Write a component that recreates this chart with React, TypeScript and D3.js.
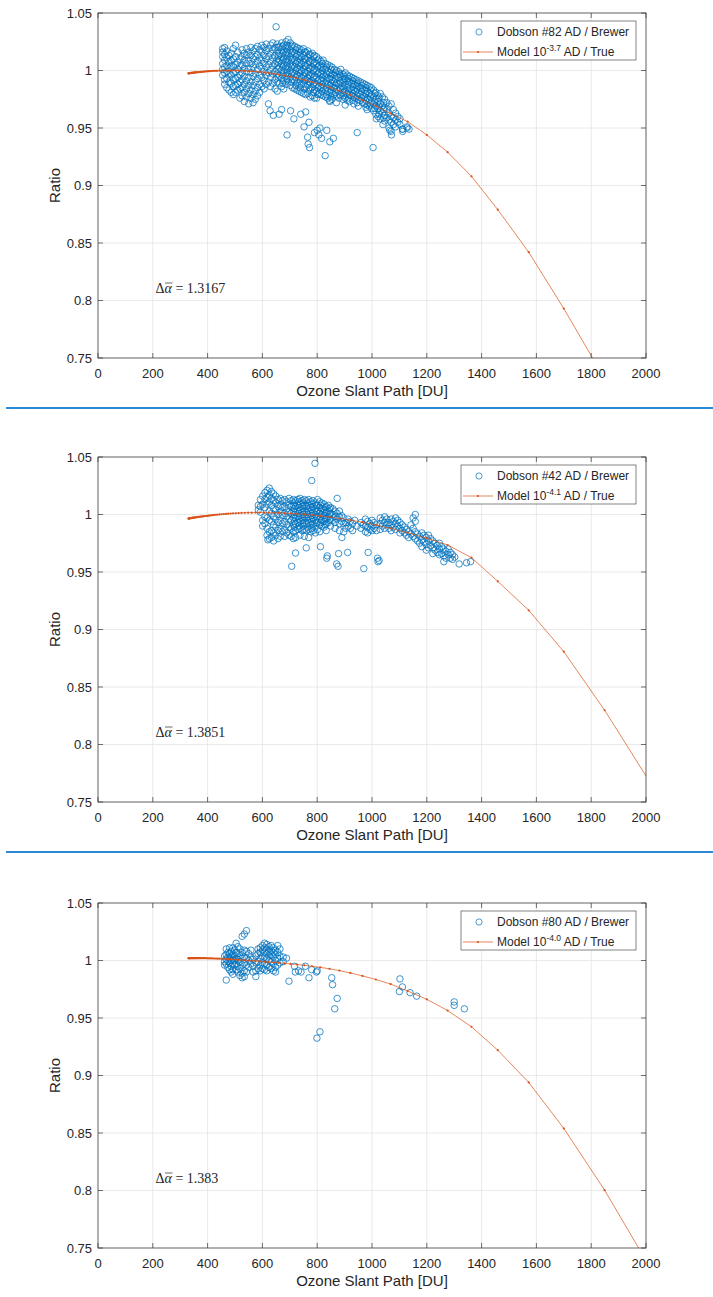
import React from 'react';
import * as d3 from 'd3';

// ---------- axes ----------
const X_TICKS = [0, 200, 400, 600, 800, 1000, 1200, 1400, 1600, 1800, 2000];
const Y_TICKS = [0.75, 0.8, 0.85, 0.9, 0.95, 1, 1.05];
const Y_TICK_LABELS = ['0.75', '0.8', '0.85', '0.9', '0.95', '1', '1.05'];
const X_LABEL = 'Ozone Slant Path [DU]';
const Y_LABEL = 'Ratio';

// ---------- legends / annotations ----------
const DOBSON_LABELS = ['Dobson #82 AD / Brewer', 'Dobson #42 AD / Brewer', 'Dobson #80 AD / Brewer'];
const MODEL_EXPONENTS = ['-3.7', '-4.1', '-4.0'];
const DELTA_ALPHA = ['1.3167', '1.3851', '1.383'];

// ---------- model curves (shared slant-path grid, ratio per panel) ----------
const MODEL_PATH = [
  330, 331, 332, 333, 334, 335, 337, 339, 341, 343,
  345, 347, 349, 351, 354, 356, 359, 361, 364, 367,
  370, 374, 377, 381, 385, 389, 394, 398, 403, 408,
  413, 419, 425, 431, 437, 444, 451, 459, 467, 475,
  484, 493, 503, 513, 524, 536, 548, 561, 575, 590,
  606, 623, 641, 660, 681, 703, 727, 753, 781, 811,
  845, 881, 921, 965, 1014, 1068, 1130, 1200, 1276, 1363,
  1459, 1572, 1700, 1849, 2015,
];
const MODEL_RATIO_1 = [
  0.9975, 0.9976, 0.9976, 0.9977, 0.9977, 0.9977, 0.9978, 0.9979, 0.9979, 0.998,
  0.998, 0.9981, 0.9981, 0.9982, 0.9983, 0.9983, 0.9984, 0.9984, 0.9985, 0.9986,
  0.9987, 0.9988, 0.9988, 0.9989, 0.999, 0.9991, 0.9992, 0.9993, 0.9994, 0.9994,
  0.9995, 0.9996, 0.9997, 0.9997, 0.9998, 0.9999, 0.9999, 1.0, 1.0, 1.0,
  1.0, 1.0, 0.9999, 0.9999, 0.9998, 0.9997, 0.9995, 0.9993, 0.9991, 0.9988,
  0.9983, 0.9978, 0.9972, 0.9965, 0.9956, 0.9946, 0.9933, 0.9918, 0.99, 0.9879,
  0.9853, 0.9823, 0.9787, 0.9743, 0.969, 0.9628, 0.9555, 0.944, 0.929, 0.908,
  0.879, 0.842, 0.793, 0.732, 0.66,
];
const MODEL_RATIO_2 = [
  0.9965, 0.9965, 0.9966, 0.9966, 0.9967, 0.9967, 0.9968, 0.9969, 0.9969, 0.997,
  0.9971, 0.9972, 0.9972, 0.9973, 0.9974, 0.9975, 0.9976, 0.9977, 0.9978, 0.9979,
  0.998, 0.9981, 0.9982, 0.9983, 0.9984, 0.9986, 0.9987, 0.9988, 0.999, 0.9991,
  0.9993, 0.9994, 0.9996, 0.9998, 0.9999, 1.0001, 1.0002, 1.0004, 1.0005, 1.0007,
  1.0008, 1.001, 1.0011, 1.0012, 1.0014, 1.0015, 1.0016, 1.0016, 1.0017, 1.0017,
  1.0017, 1.0016, 1.0015, 1.0014, 1.0012, 1.0009, 1.0006, 1.0001, 0.9995, 0.9988,
  0.9978, 0.9966, 0.9951, 0.9933, 0.9909, 0.988, 0.9842, 0.9794, 0.9735, 0.9625,
  0.9419, 0.9167, 0.8807, 0.8298, 0.767,
];
const MODEL_RATIO_3 = [
  1.002, 1.002, 1.002, 1.002, 1.002, 1.002, 1.002, 1.002, 1.002, 1.002,
  1.002, 1.002, 1.002, 1.002, 1.002, 1.002, 1.002, 1.002, 1.002, 1.002,
  1.002, 1.002, 1.002, 1.002, 1.002, 1.002, 1.002, 1.0019, 1.0019, 1.0019,
  1.0018, 1.0018, 1.0017, 1.0017, 1.0016, 1.0016, 1.0015, 1.0014, 1.0013, 1.0012,
  1.0011, 1.001, 1.0008, 1.0006, 1.0004, 1.0002, 1.0, 0.9998, 0.9996, 0.9993,
  0.999, 0.9987, 0.9984, 0.998, 0.9975, 0.997, 0.9965, 0.9958, 0.995, 0.994,
  0.9928, 0.9912, 0.9892, 0.9866, 0.9835, 0.9795, 0.9735, 0.9662, 0.9565, 0.9424,
  0.922, 0.894, 0.854, 0.8003, 0.733,
];

// ---------- Dobson / Brewer ratios: [slant path, ratios observed at that path] ----------
const P1_BAND: [number, number[]][] = [
  [455, [1.019, 1.016, 1.012, 1.006, 1.001, 0.996]],
  [462, [1.02, 1.014, 1.009, 1.003, 0.998, 0.992, 0.988]],
  [470, [1.017, 1.011, 1.004, 0.999, 0.993, 0.985]],
  [478, [1.013, 1.008, 1.002, 0.997, 0.99, 0.983]],
  [486, [1.015, 1.009, 1.004, 0.996, 0.989, 0.981]],
  [494, [1.019, 1.01, 1.003, 0.998, 0.992, 0.986, 0.979]],
  [502, [1.022, 1.012, 1.005, 0.999, 0.993, 0.987, 0.981]],
  [510, [1.016, 1.007, 1.001, 0.994, 0.988, 0.983]],
  [518, [1.01, 1.004, 0.996, 0.99, 0.984, 0.976]],
  [526, [1.018, 1.012, 1.005, 0.998, 0.992, 0.985, 0.978]],
  [534, [1.015, 1.009, 1.002, 0.995, 0.988, 0.981, 0.973]],
  [542, [1.019, 1.013, 1.006, 0.999, 0.991, 0.984, 0.977]],
  [550, [1.016, 1.009, 1.002, 0.994, 0.987, 0.98, 0.971]],
  [558, [1.02, 1.013, 1.006, 0.998, 0.99, 0.983, 0.976]],
  [566, [1.017, 1.01, 1.003, 0.995, 0.987, 0.979, 0.972]],
  [574, [1.019, 1.012, 1.005, 0.997, 0.99, 0.982, 0.975]],
  [582, [1.021, 1.014, 1.008, 1.001, 0.993, 0.985, 0.978]],
  [590, [1.018, 1.011, 1.004, 0.996, 0.988, 0.981]],
  [598, [1.022, 1.016, 1.009, 1.002, 0.994, 0.986]],
  [606, [1.02, 1.013, 1.006, 0.999, 0.991, 0.984]],
  [614, [1.023, 1.017, 1.01, 1.003, 0.996, 0.988]],
  [622, [1.019, 1.012, 1.005, 0.998, 0.99, 0.971]],
  [630, [1.022, 1.015, 1.008, 1.001, 0.994, 0.986]],
  [638, [1.024, 1.018, 1.011, 1.004, 0.997, 0.989]],
  [646, [1.02, 1.013, 1.006, 0.999, 0.992, 0.984]],
  [654, [1.023, 1.017, 1.01, 1.004, 0.997, 0.99, 0.982]],
  [662, [1.021, 1.015, 1.009, 1.003, 0.996, 0.989]],
  [670, [1.024, 1.018, 1.012, 1.006, 1.0, 0.993, 0.986]],
  [678, [1.022, 1.016, 1.01, 1.004, 0.998, 0.991, 0.984]],
  [686, [1.025, 1.019, 1.013, 1.007, 1.001, 0.995, 0.988]],
  [694, [1.027, 1.021, 1.015, 1.009, 1.003, 0.997, 0.99]],
  [702, [1.024, 1.018, 1.012, 1.006, 1.0, 0.994, 0.987]],
  [710, [1.022, 1.016, 1.01, 1.004, 0.998, 0.992, 0.985]],
  [718, [1.021, 1.015, 1.009, 1.003, 0.997, 0.991, 0.984]],
  [726, [1.02, 1.014, 1.008, 1.002, 0.996, 0.99, 0.983]],
  [734, [1.019, 1.013, 1.007, 1.001, 0.995, 0.989, 0.982]],
  [742, [1.018, 1.012, 1.006, 1.0, 0.994, 0.988, 0.981]],
  [750, [1.019, 1.013, 1.007, 1.001, 0.995, 0.988, 0.98]],
  [758, [1.016, 1.01, 1.004, 0.998, 0.992, 0.986, 0.979]],
  [766, [1.017, 1.011, 1.005, 0.999, 0.993, 0.987, 0.98]],
  [774, [1.014, 1.008, 1.002, 0.996, 0.99, 0.984, 0.977]],
  [782, [1.015, 1.009, 1.003, 0.997, 0.991, 0.985, 0.978]],
  [790, [1.013, 1.007, 1.001, 0.995, 0.989, 0.983, 0.976]],
  [798, [1.012, 1.006, 1.0, 0.994, 0.988, 0.982, 0.976]],
  [806, [1.01, 1.004, 0.998, 0.992, 0.986, 0.98]],
  [814, [1.008, 1.003, 0.997, 0.991, 0.985, 0.979]],
  [822, [1.009, 1.003, 0.997, 0.991, 0.985, 0.978]],
  [830, [1.006, 1.001, 0.995, 0.989, 0.983, 0.977]],
  [838, [1.005, 0.999, 0.993, 0.988, 0.982, 0.976]],
  [846, [1.004, 0.998, 0.993, 0.987, 0.981, 0.974]],
  [854, [1.003, 0.997, 0.992, 0.986, 0.98, 0.975]],
  [862, [1.001, 0.996, 0.99, 0.985, 0.979]],
  [870, [1.0, 0.995, 0.989, 0.984, 0.978, 0.972]],
  [878, [0.999, 0.994, 0.988, 0.982, 0.976]],
  [886, [1.001, 0.995, 0.989, 0.984, 0.978]],
  [894, [0.997, 0.992, 0.986, 0.981, 0.975]],
  [902, [0.998, 0.993, 0.988, 0.982, 0.976, 0.97]],
  [910, [0.996, 0.991, 0.985, 0.98, 0.974]],
  [918, [0.995, 0.99, 0.984, 0.979, 0.973]],
  [926, [0.994, 0.989, 0.983, 0.978]],
  [934, [0.993, 0.988, 0.983, 0.977, 0.971]],
  [942, [0.992, 0.987, 0.982, 0.976]],
  [950, [0.991, 0.986, 0.98, 0.975, 0.969]],
  [958, [0.99, 0.985, 0.979, 0.974]],
  [966, [0.989, 0.984, 0.978, 0.972]],
  [974, [0.988, 0.983, 0.977, 0.971]],
  [982, [0.987, 0.982, 0.976, 0.97, 0.966]],
  [990, [0.986, 0.98, 0.975, 0.969]],
  [998, [0.985, 0.979, 0.973, 0.967]],
  [1006, [0.983, 0.977, 0.971, 0.965]],
  [1014, [0.981, 0.975, 0.969, 0.962]],
  [1022, [0.978, 0.973, 0.967, 0.96]],
  [1030, [0.98, 0.971, 0.965, 0.958]],
  [1038, [0.977, 0.969, 0.963]],
  [1046, [0.975, 0.968, 0.961, 0.956]],
  [1054, [0.972, 0.966, 0.959]],
  [1062, [0.969, 0.963, 0.957, 0.95]],
  [1070, [0.971, 0.96, 0.955, 0.947]],
  [1078, [0.966, 0.959, 0.953]],
  [1086, [0.963, 0.957, 0.951]],
  [1094, [0.96, 0.955]],
  [1102, [0.958, 0.953]],
  [1112, [0.949, 0.947]],
  [1128, [0.95]],
  [1135, [0.949]],
];
// densest core of panel 1, between the columns above
const P1_CORE: [number, number[]][] = [
  [658, [1.02, 1.013, 1.007, 1.001, 0.994]],
  [674, [1.021, 1.015, 1.009, 1.003, 0.996, 0.989]],
  [690, [1.022, 1.016, 1.01, 1.004, 0.998, 0.992]],
  [706, [1.021, 1.015, 1.009, 1.003, 0.997, 0.99]],
  [722, [1.018, 1.012, 1.006, 1.0, 0.994, 0.987]],
  [738, [1.016, 1.01, 1.004, 0.998, 0.992, 0.985]],
  [754, [1.016, 1.01, 1.004, 0.998, 0.991, 0.984]],
  [770, [1.014, 1.008, 1.002, 0.996, 0.99, 0.983]],
  [786, [1.012, 1.006, 1.0, 0.994, 0.988, 0.981]],
  [802, [1.009, 1.003, 0.997, 0.991, 0.985, 0.979]],
  [818, [1.006, 1.0, 0.994, 0.988, 0.982]],
  [834, [1.003, 0.997, 0.991, 0.985, 0.979]],
  [850, [1.001, 0.995, 0.989, 0.983, 0.977]],
  [866, [0.998, 0.993, 0.987, 0.981]],
  [882, [0.997, 0.991, 0.985, 0.979]],
  [898, [0.995, 0.99, 0.984, 0.978]],
  [914, [0.993, 0.988, 0.982, 0.976]],
  [930, [0.991, 0.986, 0.98, 0.974]],
  [946, [0.989, 0.984, 0.978, 0.972]],
  [962, [0.987, 0.982, 0.976]],
  [978, [0.985, 0.98, 0.974, 0.968]],
  [994, [0.983, 0.977, 0.971]],
  [1010, [0.98, 0.973, 0.967]],
  [1026, [0.976, 0.969, 0.962]],
  [1042, [0.972, 0.966, 0.959]],
];
const P1_OUTLIERS: [number, number][] = [
  [650, 1.038], [628, 0.965], [640, 0.961], [661, 0.962], [670, 0.966], [690, 0.944],
  [703, 0.965], [715, 0.958], [740, 0.962], [752, 0.951], [758, 0.964], [765, 0.942],
  [770, 0.955], [767, 0.936], [772, 0.933], [790, 0.946], [800, 0.948], [806, 0.944],
  [816, 0.941], [829, 0.926], [835, 0.948], [846, 0.938], [859, 0.941], [846, 0.973],
  [810, 0.95], [946, 0.946], [1004, 0.933], [1016, 0.958], [1065, 0.948], [1071, 0.944],
  [1111, 0.949], [1128, 0.951], [1040, 0.953],
];

const P2_BAND: [number, number[]][] = [
  [585, [1.008, 1.004]],
  [593, [1.013, 1.007, 1.002]],
  [601, [1.016, 1.009, 0.995, 0.99]],
  [609, [1.019, 1.013, 1.006, 0.998, 0.992]],
  [617, [1.021, 1.015, 1.009, 0.997, 0.988, 0.982]],
  [625, [1.023, 1.017, 1.011, 1.003, 0.995, 0.985, 0.979]],
  [633, [1.02, 1.014, 1.008, 1.001, 0.994, 0.986, 0.98]],
  [641, [1.018, 1.012, 1.005, 0.998, 0.991, 0.984, 0.977]],
  [649, [1.016, 1.01, 1.004, 0.996, 0.989, 0.982]],
  [657, [1.013, 1.007, 1.0, 0.993, 0.986, 0.979]],
  [665, [1.014, 1.008, 1.002, 0.995, 0.988, 0.981]],
  [673, [1.012, 1.006, 0.999, 0.992, 0.985]],
  [681, [1.013, 1.007, 1.001, 0.994, 0.987, 0.981]],
  [689, [1.011, 1.005, 0.998, 0.991, 0.984]],
  [697, [1.014, 1.008, 1.002, 0.996, 0.989, 0.982]],
  [705, [1.012, 1.007, 1.001, 0.995, 0.988, 0.981]],
  [713, [1.013, 1.008, 1.003, 0.997, 0.991, 0.985, 0.979]],
  [721, [1.012, 1.007, 1.002, 0.997, 0.992, 0.986, 0.98]],
  [729, [1.013, 1.008, 1.003, 0.998, 0.993, 0.987]],
  [737, [1.014, 1.009, 1.004, 0.999, 0.994, 0.988, 0.982]],
  [745, [1.012, 1.007, 1.002, 0.997, 0.992, 0.986]],
  [753, [1.013, 1.008, 1.003, 0.998, 0.993, 0.987, 0.981]],
  [761, [1.012, 1.007, 1.002, 0.997, 0.992, 0.986]],
  [769, [1.013, 1.008, 1.003, 0.998, 0.993, 0.987, 0.98]],
  [777, [1.011, 1.006, 1.001, 0.996, 0.991, 0.985]],
  [785, [1.012, 1.007, 1.002, 0.997, 0.992, 0.986]],
  [793, [1.01, 1.005, 1.0, 0.995, 0.99, 0.984]],
  [801, [1.013, 1.008, 1.003, 0.998, 0.993, 0.987]],
  [809, [1.011, 1.006, 1.001, 0.996, 0.991, 0.985]],
  [817, [1.01, 1.005, 1.0, 0.995, 0.99]],
  [825, [1.009, 1.004, 0.999, 0.994, 0.989]],
  [833, [1.007, 1.002, 0.997, 0.992, 0.986]],
  [841, [1.008, 1.003, 0.998, 0.993]],
  [849, [1.006, 1.001, 0.996, 0.99]],
  [857, [1.005, 1.0, 0.995]],
  [865, [1.003, 0.998, 0.993, 0.988]],
  [873, [1.014, 1.001, 0.996]],
  [881, [1.003, 0.998, 0.992, 0.986]],
  [889, [0.999, 0.994]],
  [897, [0.997, 0.992, 0.985]],
  [905, [0.993, 0.988]],
  [913, [0.996, 0.99]],
  [921, [0.994, 0.988]],
  [929, [0.992, 0.986]],
  [937, [0.995]],
  [945, [0.99]],
  [960, [0.993, 0.988]],
  [968, [0.991]],
  [976, [0.996, 0.99, 0.985]],
  [984, [0.994, 0.989, 0.984]],
  [992, [0.992, 0.987]],
  [1000, [0.995, 0.99, 0.986]],
  [1008, [0.993, 0.988]],
  [1016, [0.991, 0.986]],
  [1030, [0.997, 0.992, 0.987]],
  [1038, [0.995, 0.99]],
  [1046, [0.998, 0.993, 0.988]],
  [1054, [0.996, 0.991]],
  [1062, [0.993, 0.988]],
  [1070, [0.996, 0.991, 0.986]],
  [1078, [0.994, 0.989]],
  [1086, [0.997, 0.992, 0.987]],
  [1094, [0.995, 0.99]],
  [1102, [0.993, 0.988, 0.984]],
  [1110, [0.991, 0.986]],
  [1118, [0.989, 0.984]],
  [1126, [0.987, 0.982]],
  [1134, [0.985, 0.98]],
  [1142, [0.991, 0.983]],
  [1150, [0.997, 0.988, 0.981]],
  [1158, [1.0, 0.994, 0.985, 0.979]],
  [1166, [0.983, 0.977]],
  [1174, [0.981, 0.975]],
  [1182, [0.984, 0.978, 0.972]],
  [1190, [0.982, 0.976]],
  [1198, [0.98, 0.974, 0.969]],
  [1206, [0.982, 0.977, 0.971]],
  [1214, [0.979, 0.973]],
  [1222, [0.977, 0.971, 0.966]],
  [1230, [0.975, 0.969]],
  [1238, [0.973, 0.967]],
  [1246, [0.975, 0.97, 0.965]],
  [1254, [0.972, 0.966]],
  [1262, [0.97, 0.964, 0.959]],
  [1270, [0.968, 0.962]],
  [1278, [0.97, 0.965]],
  [1286, [0.967, 0.962]],
  [1294, [0.965, 0.961]],
  [1302, [0.963]],
  [1318, [0.957]],
  [1345, [0.958]],
  [1360, [0.959]],
];
const P2_CORE: [number, number[]][] = [
  [717, [1.01, 1.005, 1.0, 0.994, 0.989]],
  [733, [1.011, 1.006, 1.001, 0.996, 0.99]],
  [749, [1.01, 1.005, 1.0, 0.995, 0.99]],
  [765, [1.01, 1.005, 1.0, 0.995, 0.989]],
  [781, [1.009, 1.004, 0.999, 0.994, 0.988]],
  [797, [1.008, 1.003, 0.998, 0.993]],
  [813, [1.008, 1.003, 0.998, 0.993]],
  [829, [1.006, 1.001, 0.996, 0.991]],
  [845, [1.005, 1.0, 0.995]],
];
const P2_OUTLIERS: [number, number][] = [
  [792, 1.0445], [780, 1.0295], [721, 0.9665], [707, 0.955], [812, 0.972], [837, 0.964],
  [835, 0.962], [871, 0.957], [876, 0.955], [878, 0.966], [911, 0.967], [970, 0.953],
  [986, 0.967], [1020, 0.962], [1022, 0.959], [1026, 0.96], [890, 0.98], [760, 0.971],
  [620, 0.978],
];

const P3_BAND: [number, number[]][] = [
  [462, [1.004, 0.999, 0.996]],
  [468, [1.01, 1.005, 1.001, 0.997, 0.983]],
  [474, [1.007, 1.003, 0.999, 0.994]],
  [480, [1.011, 1.006, 1.002, 0.998, 0.992]],
  [486, [1.008, 1.004, 1.0, 0.995, 0.99]],
  [492, [1.011, 1.005, 1.001, 0.997, 0.992, 0.988]],
  [498, [1.009, 1.004, 1.0, 0.996]],
  [504, [1.015, 1.007, 1.002, 0.997, 0.992]],
  [510, [1.012, 1.006, 1.001, 0.995, 0.99]],
  [518, [1.01, 1.004, 0.999, 0.993, 0.987]],
  [526, [1.021, 1.007, 1.002, 0.996, 0.989, 0.985]],
  [534, [1.023, 1.009, 1.003, 0.998, 0.991, 0.986]],
  [542, [1.026, 1.008, 1.002, 0.996, 0.99]],
  [550, [1.006, 1.0, 0.994]],
  [558, [1.009, 1.003, 0.997]],
  [566, [1.001, 0.995, 0.99]],
  [576, [1.004, 0.998, 0.991, 0.986]],
  [584, [1.01, 1.006, 0.999, 0.993]],
  [592, [1.011, 1.007, 1.002, 0.996, 0.991]],
  [600, [1.013, 1.009, 1.004, 0.998, 0.993]],
  [608, [1.015, 1.011, 1.007, 1.003, 0.997, 0.992]],
  [616, [1.014, 1.01, 1.006, 1.002, 0.996, 0.991]],
  [624, [1.012, 1.008, 1.004, 1.0, 0.994]],
  [632, [1.013, 1.009, 1.005, 0.999, 0.993]],
  [640, [1.011, 1.007, 1.003, 0.997, 0.991]],
  [648, [1.009, 1.005, 1.0, 0.994, 0.99]],
  [656, [1.013, 1.007, 1.002, 0.996]],
  [664, [1.01, 1.004, 0.998]],
  [676, [1.003, 0.999]],
  [688, [1.002]],
];
const P3_CORE: [number, number[]][] = [];
const P3_OUTLIERS: [number, number][] = [
  [697, 0.982], [717, 0.995], [720, 0.99], [732, 0.991], [741, 0.99], [757, 0.995],
  [770, 0.985], [780, 0.992], [797, 0.99], [800, 0.991], [853, 0.985], [856, 0.979],
  [873, 0.967], [864, 0.958], [810, 0.938], [799, 0.9325], [1102, 0.984], [1100, 0.973],
  [1111, 0.977], [1139, 0.972], [1163, 0.969], [1300, 0.964], [1300, 0.961], [1337, 0.958],
];

// ---------- layout ----------
const W = 713;
const H = 1297;
const LEFT = 98;
const PW = 548;
const PH = 345;
const PANEL_TOPS = [13, 457, 903];
const SEPARATOR_Y = [408, 852];

const BLUE = '#0072BD';
const ORANGE = '#D95319';
const AXIS = '#333333';
const TEXT = '#262626';
const FONT = '"Liberation Sans", Arial, Helvetica, sans-serif';

const PANELS = [
  { band: P1_BAND, core: P1_CORE, outliers: P1_OUTLIERS, ratio: MODEL_RATIO_1 },
  { band: P2_BAND, core: P2_CORE, outliers: P2_OUTLIERS, ratio: MODEL_RATIO_2 },
  { band: P3_BAND, core: P3_CORE, outliers: P3_OUTLIERS, ratio: MODEL_RATIO_3 },
];

function Panel({ idx }: { idx: number }) {
  const top = PANEL_TOPS[idx];
  const p = PANELS[idx];
  const x = d3.scaleLinear().domain([0, 2000]).range([LEFT, LEFT + PW]);
  const y = d3.scaleLinear().domain([0.75, 1.05]).range([top + PH, top]);
  const points: [number, number][] = [];
  p.band.forEach(([px, ys]) => ys.forEach((v) => points.push([px, v])));
  p.core.forEach(([px, ys]) => ys.forEach((v) => points.push([px, v])));
  p.outliers.forEach((d) => points.push(d));
  const model: [number, number][] = MODEL_PATH.map((m, i) => [m, p.ratio[i]]);
  const line = d3.line<[number, number]>().x((d) => x(d[0])).y((d) => y(d[1]));
  const clipId = `clip${idx}`;
  const bottom = top + PH;
  const right = LEFT + PW;
  const tick = 5;
  const legX = LEFT + 363;
  const legY = top + 8;
  const ann = { x: x(210), y: y(0.8065) };
  return (
    <g>
      <defs>
        <clipPath id={clipId}>
          <rect x={LEFT} y={top} width={PW} height={PH} />
        </clipPath>
      </defs>
      <rect x={LEFT} y={top} width={PW} height={PH} fill="#fff" />
      {/* grid */}
      {X_TICKS.map((t) => (
        <line key={'gx' + t} x1={x(t)} x2={x(t)} y1={top} y2={bottom} stroke="#e4e4e4" strokeWidth={0.8} />
      ))}
      {Y_TICKS.map((t) => (
        <line key={'gy' + t} x1={LEFT} x2={right} y1={y(t)} y2={y(t)} stroke="#e4e4e4" strokeWidth={0.8} />
      ))}
      {/* scatter and model */}
      <g clipPath={`url(#${clipId})`}>
        {points.map((d, i) => (
          <circle key={i} cx={x(d[0])} cy={y(d[1])} r={3.25} fill="none" stroke={BLUE} strokeWidth={0.75} />
        ))}
        <path d={line(model) || ''} fill="none" stroke={ORANGE} strokeWidth={0.7} />
        {model.map((d, i) => (
          <circle key={'m' + i} cx={x(d[0])} cy={y(d[1])} r={1.1} fill={ORANGE} />
        ))}
      </g>
      {/* axes box and ticks */}
      <rect x={LEFT} y={top} width={PW} height={PH} fill="none" stroke={AXIS} strokeWidth={0.7} />
      {X_TICKS.map((t) => (
        <g key={'tx' + t}>
          <line x1={x(t)} x2={x(t)} y1={bottom} y2={bottom - tick} stroke={AXIS} strokeWidth={0.7} />
          <line x1={x(t)} x2={x(t)} y1={top} y2={top + tick} stroke={AXIS} strokeWidth={0.7} />
          <text x={x(t)} y={bottom + 20} textAnchor="middle" fontSize={13} fontFamily={FONT} fill={TEXT}>
            {t}
          </text>
        </g>
      ))}
      {Y_TICKS.map((t, i) => (
        <g key={'ty' + t}>
          <line x1={LEFT} x2={LEFT + tick} y1={y(t)} y2={y(t)} stroke={AXIS} strokeWidth={0.7} />
          <line x1={right} x2={right - tick} y1={y(t)} y2={y(t)} stroke={AXIS} strokeWidth={0.7} />
          <text x={LEFT - 6} y={y(t) + 4.5} textAnchor="end" fontSize={13} fontFamily={FONT} fill={TEXT}>
            {Y_TICK_LABELS[i]}
          </text>
        </g>
      ))}
      <text x={(LEFT + right) / 2} y={bottom + 38} textAnchor="middle" fontSize={15} fontFamily={FONT} fill={TEXT}>
        {X_LABEL}
      </text>
      <text
        transform={`translate(60,${(top + bottom) / 2}) rotate(-90)`}
        textAnchor="middle"
        fontSize={15}
        fontFamily={FONT}
        fill={TEXT}
      >
        {Y_LABEL}
      </text>
      {/* annotation */}
      <text x={ann.x} y={ann.y} fontSize={14} fontFamily='"Liberation Serif", "DejaVu Serif", serif' fill={TEXT}>
        <tspan>Δ</tspan>
        <tspan fontStyle="italic">α</tspan>
        <tspan> = {DELTA_ALPHA[idx]}</tspan>
      </text>
      <line x1={ann.x + 9.5} x2={ann.x + 17} y1={ann.y - 10} y2={ann.y - 10} stroke={TEXT} strokeWidth={0.7} />
      {/* legend */}
      <rect x={legX} y={legY} width={175} height={39} fill="#fff" stroke={AXIS} strokeWidth={0.6} />
      <circle cx={legX + 18} cy={legY + 11} r={3.1} fill="none" stroke={BLUE} strokeWidth={0.7} />
      <text x={legX + 36} y={legY + 15} fontSize={12} fontFamily={FONT} fill={TEXT}>
        {DOBSON_LABELS[idx]}
      </text>
      <line x1={legX + 2} x2={legX + 32} y1={legY + 31} y2={legY + 31} stroke={ORANGE} strokeWidth={0.7} />
      <circle cx={legX + 17} cy={legY + 31} r={1.1} fill={ORANGE} />
      <text x={legX + 36} y={legY + 35} fontSize={12} fontFamily={FONT} fill={TEXT}>
        <tspan>Model 10</tspan>
        <tspan fontSize={8.5} dy={-5.5}>{MODEL_EXPONENTS[idx]}</tspan>
        <tspan dy={5.5}> AD / True</tspan>
      </text>
    </g>
  );
}

export default function App() {
  return (
    <svg
      width={W}
      height={H}
      viewBox={`0 0 ${W} ${H}`}
      style={{ position: 'absolute', left: 0, top: 0, background: '#fff' }}
    >
      <rect width={W} height={H} fill="#fff" />
      {[0, 1, 2].map((i) => (
        <Panel key={i} idx={i} />
      ))}
      {SEPARATOR_Y.map((s) => (
        <line key={s} x1={6} x2={W} y1={s} y2={s} stroke="#2a88d6" strokeWidth={2.2} />
      ))}
    </svg>
  );
}
